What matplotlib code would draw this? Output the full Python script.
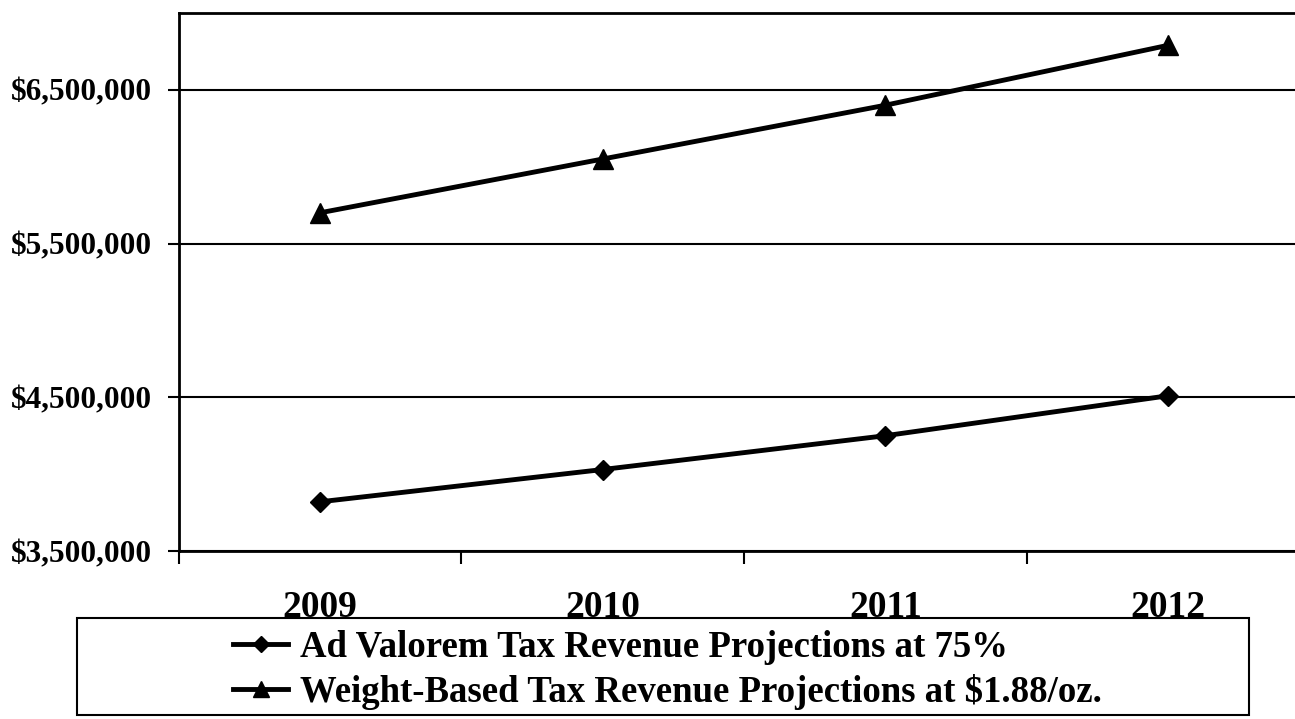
import matplotlib.pyplot as plt
from matplotlib.patches import Rectangle
from matplotlib.ticker import FuncFormatter, FixedLocator

plt.rcParams['font.family'] = ['Liberation Serif', 'DejaVu Serif']
plt.rcParams['font.weight'] = 'bold'

years = ['2009', '2010', '2011', '2012']
ad_valorem = [3820000, 4030000, 4250000, 4510000]
weight_based = [5700000, 6050000, 6400000, 6790000]
y_ticks = [3500000, 4500000, 5500000, 6500000]

W, H = 1295, 719
fig = plt.figure(figsize=(W / 100, H / 100), dpi=100)
ax = fig.add_axes([178.5 / W, 1 - 551 / H, 1131 / W, (551 - 13) / H])

x = list(range(len(years)))
ax.plot(x, ad_valorem, color='black', lw=3.5, marker='D', ms=10,
        label='Ad Valorem Tax Revenue Projections at 75%')
ax.plot(x, weight_based, color='black', lw=3.5, marker='^', ms=14,
        label='Weight-Based Tax Revenue Projections at $1.88/oz.')

ax.set_xlim(-0.5, 3.5)
ax.set_ylim(3500000, 7000000)

# y axis: dollar labels and horizontal grid
ax.set_yticks(y_ticks)
ax.yaxis.set_major_formatter(FuncFormatter(lambda v, p: '${:,.0f}'.format(v)))
ax.yaxis.grid(True, color='black', lw=1.5)
ax.tick_params(axis='y', length=8, width=1.5, pad=11, labelsize=22.5)

# x axis: ticks between categories, labels on the categories
ax.xaxis.set_major_locator(FixedLocator([-0.5, 0.5, 1.5, 2.5, 3.5]))
ax.xaxis.set_minor_locator(FixedLocator(x))
ax.set_xticklabels([])
ax.set_xticklabels(years, minor=True)
ax.tick_params(axis='x', which='major', length=9, width=1.5, direction='out')
ax.tick_params(axis='x', which='minor', length=0, pad=28, labelsize=27)

for side in ['left', 'top', 'bottom']:
    ax.spines[side].set_linewidth(2)
ax.spines['right'].set_visible(False)

# legend box drawn separately, legend itself without frame
box = Rectangle((77 / W, 1 - 715 / H), (1249 - 77) / W, (715 - 618) / H,
                transform=fig.transFigure, fill=False, ec='black', lw=1.5)
fig.add_artist(box)
fig.legend(loc='center left', bbox_to_anchor=(233 / W, 1 - 670 / H),
           frameon=False, fontsize=26.5, handlelength=1.5, handletextpad=0.33,
           labelspacing=0.25, borderpad=0, borderaxespad=0, markerscale=0.85)

fig.savefig('out.png', dpi=100)
